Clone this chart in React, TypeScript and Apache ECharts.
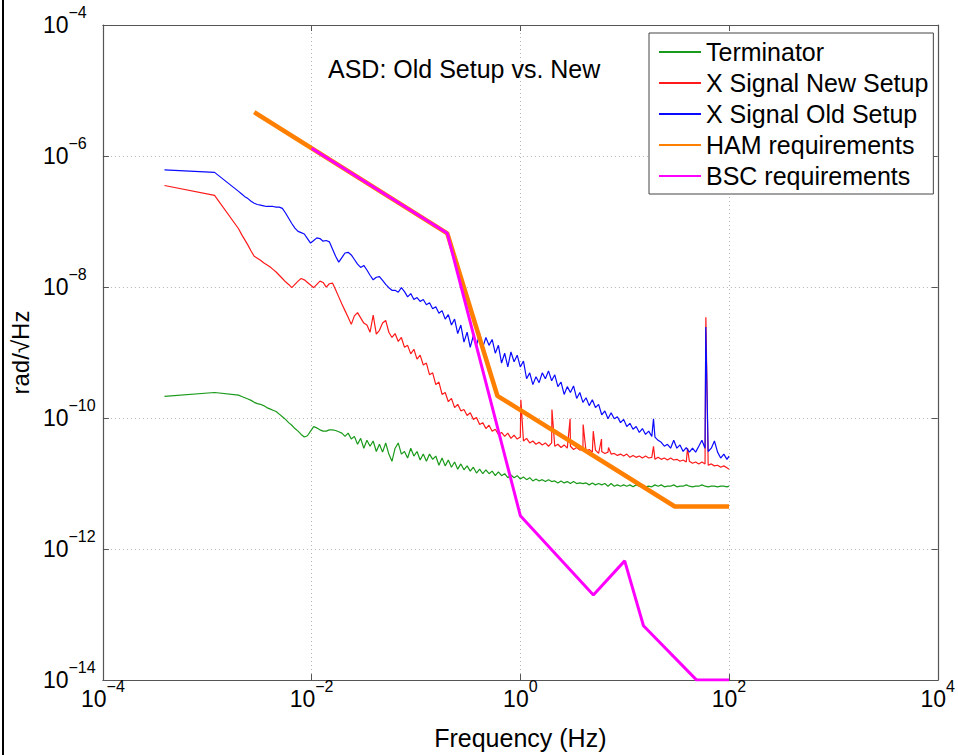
import React, { useEffect, useRef } from 'react';
import * as echarts from 'echarts';

const FONT = '"Liberation Sans", Arial, Helvetica, sans-serif';

// All values are log10: frequency in Hz, amplitude in rad/√Hz
const freqLog10 = [
  -3.41, -2.93,
  -2.70, -2.67, -2.64, -2.61, -2.58, -2.55, -2.52, -2.49, -2.46, -2.43,
  -2.40, -2.37, -2.34, -2.31, -2.28, -2.25, -2.22, -2.19, -2.16, -2.13,
  -2.10, -2.07, -2.04, -2.01, -1.98, -1.95, -1.92, -1.89, -1.86, -1.83,
  -1.80, -1.77, -1.74, -1.71, -1.68, -1.65, -1.62, -1.59, -1.56, -1.53,
  -1.50, -1.47, -1.44, -1.41, -1.38, -1.35, -1.32, -1.29, -1.26, -1.23,
  -1.20, -1.17, -1.14, -1.11, -1.08, -1.05, -1.02, -0.99, -0.96, -0.93,
  -0.90, -0.87, -0.84, -0.81, -0.78, -0.75, -0.72, -0.69, -0.66, -0.63,
  -0.60, -0.57, -0.54, -0.51, -0.48, -0.45, -0.42, -0.39, -0.36, -0.33,
  -0.30, -0.27, -0.24, -0.21, -0.18, -0.15, -0.12, -0.09, -0.06, -0.03,
  0.00, 0.03, 0.06, 0.09, 0.12, 0.15, 0.18, 0.21, 0.24, 0.27,
  0.30, 0.33, 0.36, 0.39, 0.42, 0.45, 0.48, 0.51, 0.54, 0.57,
  0.60, 0.63, 0.66, 0.69, 0.72, 0.75, 0.78, 0.81, 0.84, 0.87,
  0.90, 0.93, 0.96, 0.99, 1.02, 1.05, 1.08, 1.11, 1.14, 1.17,
  1.20, 1.23, 1.26, 1.29, 1.32, 1.35, 1.38, 1.41, 1.44, 1.47,
  1.50, 1.53, 1.56, 1.59, 1.62, 1.65, 1.68, 1.71, 1.74, 1.77,
  1.80, 1.83, 1.86, 1.89, 1.92, 1.95, 1.98, 2.00,
];

const terminatorLog10 = [
  -9.67, -9.61,
  -9.65, -9.67, -9.69, -9.71, -9.73, -9.76, -9.78, -9.79, -9.81, -9.84,
  -9.86, -9.88, -9.90, -9.94, -9.98, -10.02, -10.07, -10.11, -10.16, -10.20,
  -10.25, -10.29, -10.27, -10.20, -10.13, -10.15, -10.18, -10.20, -10.20, -10.18,
  -10.18, -10.19, -10.21, -10.23, -10.28, -10.23, -10.32, -10.28, -10.40, -10.31,
  -10.46, -10.34, -10.43, -10.35, -10.51, -10.40, -10.52, -10.38, -10.55, -10.66,
  -10.46, -10.38, -10.55, -10.51, -10.61, -10.46, -10.58, -10.51, -10.64, -10.55,
  -10.66, -10.55, -10.63, -10.58, -10.72, -10.61, -10.73, -10.64, -10.75, -10.67,
  -10.78, -10.70, -10.79, -10.73, -10.81, -10.75, -10.84, -10.78, -10.85, -10.79,
  -10.85, -10.81, -10.88, -10.82, -10.88, -10.85, -10.91, -10.87, -10.91, -10.88,
  -10.93, -10.90, -10.94, -10.91, -10.96, -10.93, -10.96, -10.94, -10.97, -10.94,
  -10.97, -10.96, -10.99, -10.96, -10.99, -10.97, -11.00, -10.97, -11.00, -10.99,
  -11.00, -10.99, -11.02, -10.99, -11.02, -11.00, -11.02, -11.00, -11.04, -11.00,
  -11.04, -11.02, -11.04, -11.02, -11.04, -11.02, -11.05, -11.02, -11.04, -11.02,
  -11.05, -11.04, -11.05, -11.02, -11.04, -11.02, -11.05, -11.04, -11.04, -11.02,
  -11.05, -11.04, -11.04, -11.02, -11.04, -11.05, -11.04, -11.04, -11.02, -11.04,
  -11.05, -11.04, -11.04, -11.05, -11.04, -11.04, -11.05, -11.04,
];

const newSetupLog10 = [
  -6.45, -6.60,
  -7.11, -7.20, -7.28, -7.36, -7.45, -7.53, -7.56, -7.59, -7.63, -7.66,
  -7.69, -7.73, -7.77, -7.82, -7.87, -7.92, -7.96, -8.01, -7.96, -7.91,
  -7.87, -7.89, -7.93, -7.97, -8.01, -7.96, -7.91, -7.93, -8.00, -7.95,
  -7.94, -8.04, -8.15, -8.26, -8.36, -8.46, -8.57, -8.44, -8.39, -8.47,
  -8.55, -8.58, -8.69, -8.43, -8.72, -8.66, -8.55, -8.51, -8.69, -8.77,
  -8.71, -8.83, -8.77, -8.92, -8.89, -9.02, -8.95, -9.10, -9.04, -9.19,
  -9.16, -9.34, -9.31, -9.49, -9.45, -9.64, -9.61, -9.75, -9.70, -9.84,
  -9.79, -9.89, -9.87, -9.96, -9.92, -10.02, -9.99, -10.10, -10.07, -10.16,
  -10.11, -10.20, -10.17, -10.25, -10.22, -10.28, -10.23, -10.31, -10.26, -10.32,
  -10.29, -10.35, -10.31, -10.38, -10.35, -10.40, -10.37, -10.41, -10.38, -10.43,
  -10.38, -10.43, -10.40, -10.45, -10.41, -10.46, -10.43, -10.48, -10.45, -10.49,
  -10.46, -10.51, -10.48, -10.52, -10.49, -10.54, -10.51, -10.54, -10.52, -10.55,
  -10.54, -10.57, -10.55, -10.58, -10.55, -10.60, -10.57, -10.60, -10.58, -10.61,
  -10.58, -10.61, -10.60, -10.63, -10.60, -10.63, -10.61, -10.64, -10.61, -10.64,
  -10.63, -10.66, -10.64, -10.67, -10.66, -10.69, -10.67, -10.70, -10.67, -10.70,
  -10.72, -10.70, -10.73, -10.72, -10.75, -10.73, -10.76, -10.78,
];

const oldSetupLog10 = [
  -6.21, -6.25,
  -6.54, -6.58, -6.62, -6.65, -6.69, -6.72, -6.74, -6.75, -6.76, -6.77,
  -6.77, -6.77, -6.78, -6.78, -6.80, -6.87, -6.95, -7.03, -7.10, -7.15,
  -7.17, -7.19, -7.26, -7.33, -7.29, -7.25, -7.26, -7.30, -7.29, -7.31,
  -7.42, -7.53, -7.62, -7.55, -7.48, -7.47, -7.51, -7.58, -7.65, -7.70,
  -7.67, -7.74, -7.82, -7.89, -7.85, -7.84, -7.90, -7.96, -8.01, -8.05,
  -8.05, -8.08, -8.01, -8.07, -8.15, -8.10, -8.19, -8.16, -8.22, -8.19,
  -8.27, -8.24, -8.33, -8.30, -8.40, -8.36, -8.49, -8.42, -8.58, -8.49,
  -8.71, -8.58, -8.84, -8.69, -8.92, -8.74, -8.89, -8.71, -8.92, -8.77,
  -8.89, -8.80, -9.01, -8.89, -9.16, -9.01, -9.22, -8.99, -9.14, -9.04,
  -9.22, -9.13, -9.40, -9.31, -9.49, -9.37, -9.46, -9.31, -9.40, -9.28,
  -9.43, -9.34, -9.52, -9.45, -9.64, -9.52, -9.61, -9.51, -9.70, -9.61,
  -9.76, -9.69, -9.81, -9.72, -9.84, -9.79, -9.95, -9.89, -10.01, -9.92,
  -10.01, -9.98, -10.07, -10.02, -10.13, -10.08, -10.17, -10.13, -10.22, -10.16,
  -10.25, -10.20, -10.28, -10.29, -10.34, -10.37, -10.43, -10.40, -10.46, -10.34,
  -10.46, -10.41, -10.51, -10.45, -10.52, -10.46, -10.52, -10.43, -10.34, -10.46,
  -10.51, -10.46, -10.35, -10.52, -10.61, -10.55, -10.63, -10.58,
];

// narrow line peaks: [log10 f, log10 amplitude]
const newSetupSpikes = [
  [0.005, -9.72], [0.303, -9.87], [0.477, -10.01], [0.602, -10.10], [0.699, -10.2],
  [0.778, -10.32], [0.845, -10.45], [1.276, -10.43], [1.602, -10.46], [1.778, -8.46],
];
const oldSetupSpikes = [
  [1.276, -10.01], [1.777, -8.61],
];

const hamFreqLog10 = [-2.55, -0.70, -0.22, 1.48, 2.0];
const hamLog10 = [-5.33, -7.18, -9.66, -11.35, -11.35];

const bscFreqLog10 = [-2.0, -0.70, 0.0, 0.70, 1.0, 1.18, 1.69, 2.0];
const bscLog10 = [-5.88, -7.18, -11.49, -12.70, -12.18, -13.17, -14.0, -14.0];

const seriesNames = ['Terminator', 'X Signal New Setup', 'X Signal Old Setup', 'HAM requirements', 'BSC requirements'];
const seriesColors = ['#1a9a1a', '#ff1a1a', '#0a0aff', '#ff7f00', '#ff00ff'];

const xRange = [-4, 4];
const yRange = [-14, -4];
const tickStep = 2;

function toPoints(xs: number[], ys: number[], extra: number[][] = []) {
  const pts = xs.map((x, i) => [x, ys[i]]);
  const all = pts.concat(extra.map((p) => [p[0], p[1]]));
  all.sort((a, b) => a[0] - b[0]);
  return all;
}

const powLabel = (v: number) => {
  const n = Math.round(v);
  const e = n < 0 ? '\u2212' + Math.abs(n) : String(n);
  return '{b|10}{e|' + e + '}';
};

const labelRich = {
  b: { fontSize: 23, lineHeight: 26, fontFamily: FONT, color: '#000', verticalAlign: 'middle' },
  e: { fontSize: 16, lineHeight: 16, padding: [0, 0, 26, 0], fontFamily: FONT, color: '#000', verticalAlign: 'middle' },
};

const axisColor = '#555';

export default function App() {
  const ref = useRef<HTMLDivElement>(null);
  useEffect(() => {
    if (!ref.current) return;
    const chart = echarts.init(ref.current, undefined, { renderer: 'svg' });
    const lineSeries = (i: number, data: number[][], width: number) => ({
      name: seriesNames[i],
      type: 'line',
      data,
      showSymbol: false,
      symbol: 'none',
      silent: true,
      color: seriesColors[i],
      lineStyle: { color: seriesColors[i], width },
      itemStyle: { color: seriesColors[i] },
      z: 2 + i,
    });
    const frameAxis = {
      axisLine: { show: true, onZero: false, lineStyle: { color: axisColor, width: 1.2 } },
      axisTick: { show: true, inside: true, length: 6, lineStyle: { color: axisColor } },
      axisLabel: { show: false },
      splitLine: { show: false },
    };
    chart.setOption({
      animation: false,
      backgroundColor: '#fff',
      textStyle: { fontFamily: FONT },
      title: {
        text: 'ASD: Old Setup vs. New',
        left: 328,
        top: 54,
        padding: 0,
        textStyle: { fontSize: 25, fontWeight: 'normal', color: '#000', fontFamily: FONT, lineHeight: 30 },
      },
      legend: {
        orient: 'vertical',
        left: 649,
        top: 33,
        padding: [5, 5, 4, 9],
        itemWidth: 42,
        itemHeight: 14,
        itemGap: 3,
        itemTextGap: 5,
        backgroundColor: '#fff',
        borderColor: '#444',
        borderWidth: 1,
        selectedMode: false,
        itemStyle: { opacity: 0, borderWidth: 0 },
        data: seriesNames,
        textStyle: { fontSize: 25, lineHeight: 28, color: '#000', fontFamily: FONT },
      },
      grid: { left: 98, top: 25, width: 840, height: 661, containLabel: false },
      xAxis: [
        {
          type: 'value',
          min: xRange[0],
          max: xRange[1],
          interval: tickStep,
          name: 'Frequency (Hz)',
          nameLocation: 'middle',
          nameGap: 41,
          nameTextStyle: { fontSize: 25, color: '#000', fontFamily: FONT },
          axisLine: { show: true, onZero: false, lineStyle: { color: axisColor, width: 1.2 } },
          axisTick: { show: true, inside: true, length: 6, lineStyle: { color: axisColor } },
          axisLabel: { margin: 6, formatter: powLabel, rich: labelRich },
          splitLine: { show: true, lineStyle: { color: '#b4b4b4', type: [1, 3], width: 1 } },
        },
        {
          type: 'value',
          position: 'top',
          min: xRange[0],
          max: xRange[1],
          interval: tickStep,
          ...frameAxis,
        },
      ],
      yAxis: [
        {
          type: 'value',
          min: yRange[0],
          max: yRange[1],
          interval: tickStep,
          name: 'rad/\u221AHz',
          nameLocation: 'middle',
          nameGap: 67,
          nameRotate: 90,
          nameTextStyle: { fontSize: 24, color: '#000', fontFamily: FONT },
          axisLine: { show: true, onZero: false, lineStyle: { color: axisColor, width: 1.2 } },
          axisTick: { show: true, inside: true, length: 6, lineStyle: { color: axisColor } },
          axisLabel: { margin: 60, align: 'left', formatter: powLabel, rich: labelRich },
          splitLine: { show: true, lineStyle: { color: '#b4b4b4', type: [1, 3], width: 1 } },
        },
        {
          type: 'value',
          position: 'right',
          min: yRange[0],
          max: yRange[1],
          interval: tickStep,
          ...frameAxis,
        },
      ],
      graphic: [
        { type: 'rect', left: 2, top: 0, shape: { width: 2, height: 755 }, style: { fill: '#000' }, silent: true },
      ],
      series: [
        lineSeries(0, toPoints(freqLog10, terminatorLog10), 1.2),
        lineSeries(1, toPoints(freqLog10, newSetupLog10, newSetupSpikes), 1.2),
        lineSeries(2, toPoints(freqLog10, oldSetupLog10, oldSetupSpikes), 1.2),
        lineSeries(3, toPoints(hamFreqLog10, hamLog10), 4.5),
        lineSeries(4, toPoints(bscFreqLog10, bscLog10), 3),
      ],
    });
    return () => chart.dispose();
  }, []);
  return (
    <div
      ref={ref}
      style={{ position: 'fixed', left: 0, top: 0, width: 958, height: 755, background: '#fff' }}
    />
  );
}
